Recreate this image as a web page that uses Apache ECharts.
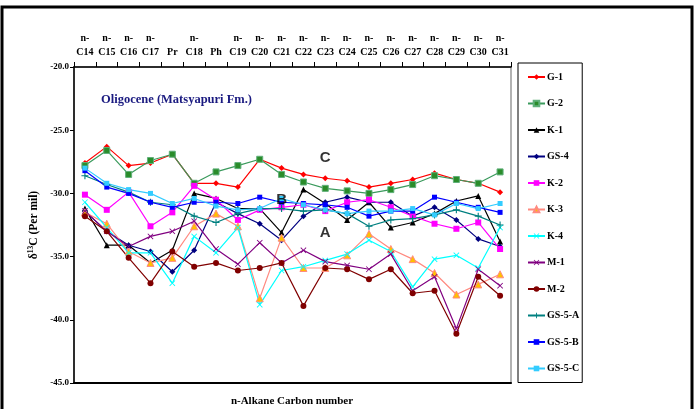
<!DOCTYPE html>
<html>
<head>
<meta charset="utf-8">
<script src="https://cdn.jsdelivr.net/npm/echarts@6/dist/echarts.min.js"></script>
<style>
  html, body { margin: 0; padding: 0; background: #fff; }
  #chart { width: 699px; height: 409px; }
</style>
</head>
<body>
<div id="chart"></div>
<script>
// carbon numbers along the top axis
var categories = ['C14', 'C15', 'C16', 'C17', 'Pr', 'C18', 'Ph', 'C19', 'C20', 'C21',
  'C22', 'C23', 'C24', 'C25', 'C26', 'C27', 'C28', 'C29', 'C30', 'C31'];

var yTicks = [-45, -40, -35, -30, -25, -20];

// d13C values (per mil)
var g1 = [-27.6, -26.3, -27.8, -27.6, -26.9, -29.2, -29.2, -29.5, -27.3, -28.0, -28.5, -28.8, -29.0, -29.5, -29.2, -28.9, -28.4, -28.9, -29.2, -29.9];
var g2 = [-27.8, -26.6, -28.5, -27.4, -26.9, -29.2, -28.3, -27.8, -27.3, -28.5, -29.1, -29.6, -29.8, -30.0, -29.7, -29.3, -28.6, -28.9, -29.2, -28.3];
var k1 = [-31.2, -34.1, -34.1, -35.5, -34.5, -30.0, -30.4, -31.2, -31.2, -33.1, -29.7, -30.8, -32.1, -30.7, -32.7, -32.3, -31.6, -30.6, -30.2, -33.8];
var gs4 = [-31.4, -33.0, -34.1, -34.6, -36.2, -34.5, -30.7, -31.6, -32.4, -33.7, -31.8, -30.7, -30.3, -30.7, -30.7, -31.8, -31.1, -32.1, -33.6, -34.2];
var k2 = [-30.1, -31.3, -29.9, -32.6, -31.5, -29.4, -30.5, -32.1, -31.3, -31.1, -30.9, -31.4, -30.7, -30.5, -31.1, -31.8, -32.4, -32.8, -32.3, -34.4];
var k3 = [-31.5, -32.4, -34.6, -35.5, -35.1, -32.6, -31.6, -32.6, -38.3, -33.5, -35.9, -35.9, -34.9, -33.2, -34.4, -35.2, -36.3, -38.0, -37.2, -36.4];
var k4 = [-30.7, -32.7, -34.7, -34.7, -37.1, -33.4, -34.7, -32.7, -38.8, -36.1, -35.8, -35.3, -34.8, -33.7, -34.6, -37.4, -35.2, -34.9, -35.9, -32.7];
var m1 = [-31.4, -33.0, -34.2, -33.4, -33.0, -32.2, -34.4, -35.6, -33.9, -35.5, -34.5, -35.4, -35.7, -36.0, -34.8, -37.7, -36.6, -40.7, -36.0, -37.3];
var m2 = [-31.8, -33.0, -35.1, -37.1, -34.6, -35.8, -35.5, -36.1, -35.9, -35.5, -38.9, -35.9, -36.0, -36.8, -36.0, -37.9, -37.7, -41.1, -36.6, -38.1];
var gs5a = [-28.6, -29.3, -29.9, -30.7, -30.9, -31.8, -32.3, -31.6, -31.2, -31.2, -31.4, -31.3, -31.6, -32.6, -32.1, -32.0, -31.7, -31.3, -31.8, -32.5];
var gs5b = [-28.2, -29.5, -30.0, -30.7, -31.1, -30.7, -30.7, -30.8, -30.3, -30.7, -30.8, -30.9, -31.1, -31.8, -31.4, -31.4, -30.3, -30.7, -31.1, -31.5];
var gs5c = [-28.0, -29.2, -29.7, -30.0, -30.8, -30.4, -31.0, -31.3, -31.2, -30.4, -30.9, -31.3, -31.6, -31.4, -31.4, -31.2, -31.7, -30.8, -31.2, -30.8];

// group letters written inside the plot
var groupNames = ['C', 'B', 'A'];
var groupCats = ['C23', 'C21', 'C23'];
var groupVals = [-27.2, -30.5, -33.15];

var serif = 'Liberation Serif';
var crossSym = 'path://M0,1L1,0L5,4L9,0L10,1L6,5L10,9L9,10L5,6L1,10L0,9L4,5Z';
var plusSym = 'path://M4.2,0H5.8V4.2H10V5.8H5.8V10H4.2V5.8H0V4.2H4.2Z';
var dashSym = 'path://M0,3.5H10V6.5H0Z';

function mk(name, data, lineColor, symbol, size, fill, border) {
  return {
    name: name,
    type: 'line',
    data: data,
    symbol: symbol,
    symbolSize: size,
    showSymbol: true,
    lineStyle: { color: lineColor, width: 1.2 },
    itemStyle: { color: fill || lineColor, borderColor: border || fill || lineColor, borderWidth: border ? 1 : 0 },
    emphasis: { disabled: true },
    z: 3
  };
}

var series = [
  mk('G-1', g1, '#ff0000', 'diamond', 6),
  mk('G-2', g2, '#3a9a5c', 'rect', 6, '#2a8c2a', '#5fb07a'),
  mk('K-1', k1, '#000000', 'triangle', 6),
  mk('GS-4', gs4, '#000080', 'diamond', 6),
  mk('K-2', k2, '#ff00ff', 'rect', 6),
  mk('K-3', k3, '#ff8a80', 'triangle', 7, '#ffc000', '#ff8a80'),
  mk('K-4', k4, '#00ffff', crossSym, 6),
  mk('M-1', m1, '#800080', crossSym, 6),
  mk('M-2', m2, '#800000', 'circle', 6),
  mk('GS-5-A', gs5a, '#008080', plusSym, 7),
  mk('GS-5-B', gs5b, '#0000ff', dashSym, 5),
  mk('GS-5-C', gs5c, '#33ccff', dashSym, 5)
];

// letters C, B, A
series.push({
  name: 'groups',
  type: 'scatter',
  symbolSize: 0,
  silent: true,
  data: groupNames.map(function(n, i) { return { name: n, value: [groupCats[i], groupVals[i]] }; }),
  label: {
    show: true,
    position: 'inside',
    formatter: '{b}',
    fontFamily: 'Liberation Sans',
    fontWeight: 'bold',
    fontSize: 15,
    color: '#000'
  },
  z: 5
});

var myChart = echarts.init(document.getElementById('chart'));
myChart.setOption({
  animation: false,
  backgroundColor: '#fff',
  title: {
    text: 'Oligocene (Matsyapuri Fm.)',
    left: 96,
    top: 88,
    textStyle: { fontFamily: serif, fontWeight: 'bold', fontSize: 12.5, color: '#1a1a80' }
  },
  legend: {
    data: series.slice(0, 12).map(function(s) { return s.name; }),
    orient: 'vertical',
    left: 518,
    top: 63,
    padding: [7, 3, 7, 9],
    itemGap: 12.5,
    itemWidth: 17,
    itemHeight: 7,
    borderColor: '#000',
    borderWidth: 1,
    textStyle: { fontFamily: serif, fontWeight: 'bold', fontSize: 10, lineHeight: 14, color: '#000', padding: [0, 0, 0, -3] }
  },
  grid: {
    left: 74,
    right: 188,
    top: 67,
    bottom: 26,
    show: true,
    borderColor: '#999',
    borderWidth: 1.5
  },
  xAxis: [{
    type: 'category',
    data: categories,
    position: 'top',
    boundaryGap: true,
    axisLine: { show: true, lineStyle: { color: '#000', width: 1.5 } },
    axisTick: { show: true, inside: false, length: 5, lineStyle: { color: '#000' } },
    splitLine: { show: false },
    axisLabel: {
      interval: 0,
      margin: 8,
      fontFamily: serif,
      fontWeight: 'bold',
      fontSize: 10,
      color: '#000',
      lineHeight: 14,
      formatter: function(v) { return v.charAt(0) === 'C' ? 'n-\n' + v : v; }
    }
  }, {
    type: 'category',
    data: categories,
    position: 'bottom',
    axisLine: { show: true, lineStyle: { color: '#000', width: 2 } },
    axisTick: { show: false },
    axisLabel: { show: false }
  }],
  yAxis: {
    type: 'value',
    min: yTicks[0],
    max: yTicks[yTicks.length - 1],
    interval: 5,
    name: 'δ{sup|13}C (Per mil)',
    nameLocation: 'middle',
    nameGap: 33,
    nameMoveOverlap: false,
    nameRotate: 90,
    nameTextStyle: {
      fontFamily: serif,
      fontWeight: 'bold',
      fontSize: 11.5,
      color: '#000',
      rich: {
        sup: { fontFamily: serif, fontWeight: 'bold', fontSize: 7.5, verticalAlign: 'top', padding: [0, 0, 6, 0] }
      }
    },
    axisLine: { show: true, lineStyle: { color: '#000', width: 1.5 } },
    axisTick: { show: true, length: 4, lineStyle: { color: '#000' } },
    splitLine: { show: false },
    axisLabel: {
      margin: 5,
      fontFamily: serif,
      fontWeight: 'bold',
      fontSize: 9,
      color: '#000',
      formatter: function(v) { return v.toFixed(1); }
    }
  },
  graphic: [{
    type: 'rect',
    shape: { x: 2, y: 7, width: 690, height: 430 },
    style: { fill: 'none', stroke: '#000', lineWidth: 3 },
    silent: true
  }, {
    type: 'text',
    x: 292,
    y: 401,
    style: {
      text: 'n-Alkane Carbon number',
      fontFamily: serif,
      fontWeight: 'bold',
      fontSize: 11,
      fill: '#000',
      align: 'center',
      verticalAlign: 'middle'
    },
    silent: true
  }],
  series: series
});
</script>
</body>
</html>
